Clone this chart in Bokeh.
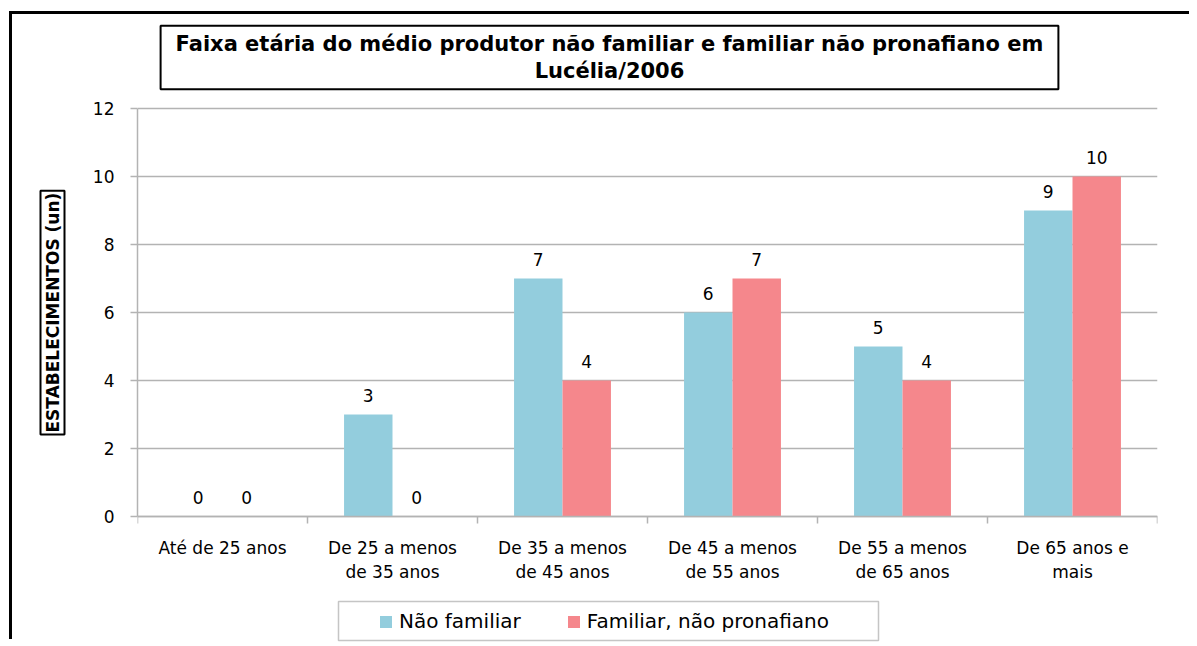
from bokeh.plotting import figure
from bokeh.models import (Range1d, LinearAxis, FixedTicker, Title, Label, BoxAnnotation,
                          Legend, LegendItem, ColumnDataSource)
from bokeh.transform import dodge
from bokeh.core.properties import value
from bokeh.embed import file_html
from bokeh.resources import INLINE

# ---------------- data ----------------
categories = ["Até de 25 anos", "De 25 a menos\nde 35 anos", "De 35 a menos\nde 45 anos",
              "De 45 a menos\nde 55 anos", "De 55 a menos\nde 65 anos", "De 65 anos e\nmais"]
nao_familiar = [0, 3, 7, 6, 5, 9]
familiar_nao_pronafiano = [0, 0, 4, 7, 4, 10]
series_names = ["Não familiar", "Familiar, não pronafiano"]
y_ticks = [0, 2, 4, 6, 8, 10, 12]
title_text = "Faixa etária do médio produtor não familiar e familiar não pronafiano em\nLucélia/2006"
y_label = "ESTABELECIMENTOS (un)"

# ---------------- style / layout ----------------
BLUE = "#93CDDD"
PINK = "#F5878C"
GRID = "#B3B3B3"
FONT = "DejaVu Sans"
BAR_W = 0.285

FIG_W, FIG_H = 1180, 628
AXIS_TOP_PX, AXIS_BOTTOM_PX = 94, 502      # where 12 and 0 sit inside the canvas
Y_LO, Y_HI = y_ticks[0], y_ticks[-1]
px_per_unit = (AXIS_BOTTOM_PX - AXIS_TOP_PX) / (Y_HI - Y_LO)
y_min = Y_LO - (FIG_H - AXIS_BOTTOM_PX) / px_per_unit
y_max = Y_HI + AXIS_TOP_PX / px_per_unit

n = len(categories)
centers = [i + 0.5 for i in range(n)]

src = ColumnDataSource(dict(
    xc=centers,
    nf=nao_familiar,
    fnp=familiar_nao_pronafiano,
    nf_txt=[str(v) for v in nao_familiar],
    fnp_txt=[str(v) for v in familiar_nao_pronafiano],
))

p = figure(width=FIG_W, height=FIG_H, x_range=Range1d(0, n),
           y_range=Range1d(y_min, y_max), output_backend="svg", toolbar_location=None,
           min_border_left=125, min_border_right=35, min_border_top=0, min_border_bottom=0,
           margin=(14, 0, 0, 12),
           styles={"box-shadow": "-3px -3px 0px 0px black"})
p.outline_line_color = None
p.background_fill_color = "white"
p.border_fill_color = "white"

# y axis
p.yaxis.ticker = FixedTicker(ticks=y_ticks)
p.yaxis.bounds = (Y_LO, Y_HI)
p.yaxis.axis_line_color = GRID
p.yaxis.axis_line_width = 1.5
p.yaxis.major_tick_line_color = GRID
p.yaxis.major_tick_line_width = 1.5
p.yaxis.major_tick_out = 7
p.yaxis.major_tick_in = 0
p.yaxis.minor_tick_line_color = None
p.yaxis.major_label_standoff = 16
p.yaxis.major_label_text_font = FONT
p.yaxis.major_label_text_font_size = "17px"
p.yaxis.major_label_text_color = "black"

p.xgrid.grid_line_color = None
p.ygrid.grid_line_color = GRID
p.ygrid.grid_line_width = 1.5

# boundary tick axis (default x axis), pinned at y = 0
tick_axis = p.xaxis[0]
tick_axis.fixed_location = 0
tick_axis.ticker = FixedTicker(ticks=list(range(n + 1)))
tick_axis.axis_line_color = GRID
tick_axis.axis_line_width = 1.5
tick_axis.major_tick_line_color = GRID
tick_axis.major_tick_line_width = 1.5
tick_axis.major_tick_out = 7
tick_axis.major_tick_in = 0
tick_axis.minor_tick_line_color = None
tick_axis.major_label_overrides = {i: " " for i in range(n + 1)}
tick_axis.major_label_text_font_size = "1px"

# category label axis, pinned at y = 0
cat_axis = LinearAxis(fixed_location=0, ticker=FixedTicker(ticks=centers),
                      major_label_overrides={c: lab for c, lab in zip(centers, categories)},
                      axis_line_color=None, major_tick_line_color=None, minor_tick_line_color=None,
                      major_tick_out=0, major_tick_in=0,
                      major_label_standoff=21, major_label_text_font=FONT,
                      major_label_text_font_size="17px", major_label_text_color="black",
                      major_label_text_line_height=1.2)
p.add_layout(cat_axis, "below")

# bars
r1 = p.vbar(x=dodge("xc", -BAR_W / 2), top="nf", width=BAR_W, source=src,
            fill_color=BLUE, line_color=None)
r2 = p.vbar(x=dodge("xc", BAR_W / 2), top="fnp", width=BAR_W, source=src,
            fill_color=PINK, line_color=None)

for col, txt, off in (("nf", "nf_txt", -BAR_W / 2), ("fnp", "fnp_txt", BAR_W / 2)):
    p.text(x=dodge("xc", off), y=col, text=txt, source=src,
           text_align="center", text_baseline="bottom", y_offset=-13,
           text_font=value(FONT), text_font_size="17px", text_color="black")

# boxed chart title (inside the frame area, above the axes)
p.add_layout(Label(x=472, y=585, x_units="screen", y_units="screen", text=title_text,
                   text_align="center", text_baseline="middle", text_font=FONT,
                   text_font_style="bold", text_font_size="21px", text_color="black",
                   text_line_height=1.15, border_line_color="black", border_line_width=2,
                   background_fill_color="white",
                   padding=dict(left=15, right=15, top=6, bottom=6)))

# boxed y-axis title
p.add_layout(Title(text=y_label, align="left", offset=208, text_font=FONT,
                   text_font_style="bold", text_font_size="17px", text_color="black",
                   border_line_color="black", border_line_width=2,
                   background_fill_color="white", standoff=50,
                   padding=dict(left=2, right=2, top=2, bottom=2)), "left")

# legend with its box
p.add_layout(BoxAnnotation(left=201, right=741, bottom=2, top=41, left_units="screen",
                           right_units="screen", top_units="screen", bottom_units="screen",
                           fill_color=None, line_color="#404040", line_width=1.5))
legend = Legend(items=[LegendItem(label=series_names[0], renderers=[r1]),
                       LegendItem(label=series_names[1], renderers=[r2])],
                orientation="horizontal", location=(241, 9), border_line_color=None,
                background_fill_alpha=0, glyph_width=15, glyph_height=15, label_standoff=6,
                spacing=45, padding=5, margin=0, label_text_font=FONT,
                label_text_font_size="20px", label_text_color="black")
p.add_layout(legend, "center")

open("out.html", "w").write(file_html(p, INLINE))
